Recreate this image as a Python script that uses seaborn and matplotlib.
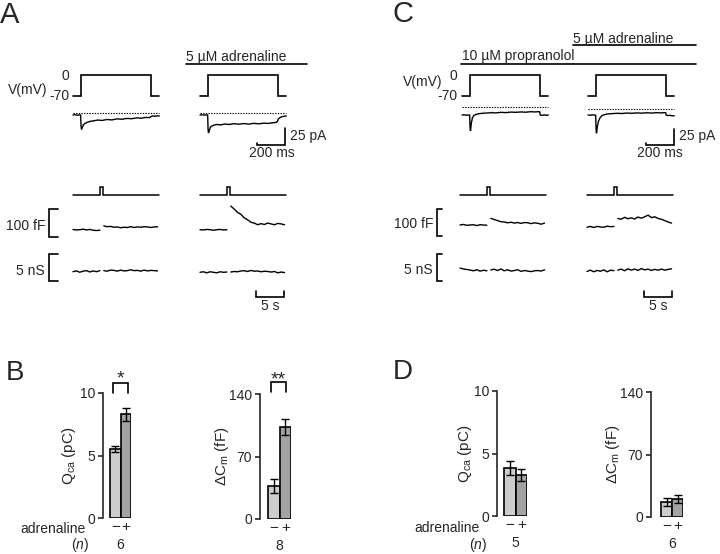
import numpy as np
import pandas as pd
import matplotlib
matplotlib.use('Agg')
import matplotlib.pyplot as plt
import seaborn as sns

# ------------------------
# Data
# ------------------------

# voltage protocol: 500 ms step from -70 to 0 mV (ms, mV)
step_t = [0, 55, 55, 550, 550, 610]
step_v = [-70, -70, 0, 0, -70, -70]

# whole-cell Ca current (ms, pA)
i_t = [0, 15, 30, 45, 54, 57, 60, 66, 74, 85, 100, 120, 145, 175, 205, 240,
       275, 310, 345, 380, 415, 450, 485, 515, 540, 549, 553, 565, 580, 595, 610]
i_ctrl = [-3.4, -3, -3.8, -3.2, -3.5, -20, -25, -22, -18, -16, -14.5, -13, -12.2, -11, -11.6, -10.2,
          -10.8, -9.2, -9.8, -8.6, -9, -7.8, -8.2, -7, -7.4, -6.2, -5.6, -4.8, -5.4, -4.6, -5]
i_adr = [-3, -2.6, -3.2, -2.8, -3, -24, -30, -26, -21, -19.5, -18, -17.2, -17.8, -16.5, -17.2, -16,
         -16.8, -15.8, -16.6, -15.5, -16.2, -15.2, -15.6, -14.6, -14, -12, -9, -7, -5.5, -4.8, -4.5]
i_prop = [-12, -11.6, -12.4, -11.8, -12.2, -30, -36, -24, -16, -12.5, -11, -10, -9.4, -9, -8.6, -8.8,
          -8, -8.4, -7.6, -8, -7.4, -7.8, -7, -7.4, -7, -7.2, -12, -12.6, -11.8, -12.4, -12]
i_prop_adr = [-9.7, -10.2, -9.4, -10, -9.8, -30, -37, -27, -19, -14, -10.5, -9, -8, -7.6, -7.2, -7.5,
              -6.8, -7.2, -6.6, -7, -6.4, -6.8, -6.2, -6.6, -6.2, -6.4, -10, -10.6, -10.2, -11, -10.8]

# stimulus marker for the capacitance records (s)
stim_t = [0, 4.9, 4.9, 5.4, 5.4, 15.3]
stim_v = [0, 0, 1, 1, 0, 0]

# membrane capacitance (fF) and conductance (nS), sampled before / after the pulse
t_pre = np.arange(0, 4.9, 0.6)
t_post = np.arange(5.5, 15.4, 0.6)

cm_ctrl_pre = [1, -1, 0, 2, -1, 1, -2, -3, -2]
cm_ctrl_post = [14, 11, 12, 9, 10, 7, 9, 8, 11, 8, 10, 9, 11, 10, 8, 10, 11]
cm_adr_pre = [0, -1, 1, 0, -2, 0, 1, -1, 0]
cm_adr_post = [86, 75, 63, 56, 43, 36, 27, 24, 18, 22, 19, 24, 21, 18, 23, 21, 18]
cm_prop_pre = [0, 2, -1, 0, 1, -2, 1, 0, -1]
cm_prop_post = [24, 20, 16, 12, 11, 8, 10, 7, 9, 6, 9, 8, 5, 8, 6, 3, 7]
cm_pa_pre = [-2, 1, -3, 1, -1, -2, 2, 0, 1]
cm_pa_post = [30, 27, 34, 29, 32, 28, 35, 31, 36, 42, 33, 36, 30, 27, 22, 17, 13]

gm_ctrl_pre = [0, 0.15, -0.1, 0.1, 0.2, -0.05, 0.15, 0, 0.2]
gm_ctrl_post = [0.2, 0.1, 0.3, 0.25, 0.1, 0.3, 0.15, 0.2, 0.35, 0.2, 0.25, 0.1, 0.3, 0.15, 0.25, 0.2, 0.15]
gm_adr_pre = [0, 0.1, -0.1, 0.1, 0, -0.1, 0.1, 0, 0.05]
gm_adr_post = [0.05, 0.15, 0.1, 0.25, 0.3, 0.15, 0.35, 0.2, 0.25, 0.1, 0.2, 0.15, 0.05, 0.15, -0.1, 0.05, -0.05]
gm_prop_pre = [0.35, 0.2, 0.1, 0, -0.15, 0.05, -0.2, -0.05, -0.15]
gm_prop_post = [0, 0.15, -0.1, 0.2, -0.15, 0.05, -0.2, -0.1, 0.05, -0.25, -0.1, -0.2, -0.3, -0.15, -0.1, -0.2, 0.05]
gm_pa_pre = [-0.15, 0.1, -0.2, 0.05, -0.1, 0.15, -0.2, 0.1, 0]
gm_pa_post = [0.1, 0.3, 0, 0.35, 0.1, 0.3, 0.05, 0.4, 0.15, 0.3, 0.05, 0.25, 0.1, 0.3, 0.1, 0.25, 0.35]

# summary bars (mean, SEM)
groups = ['\u2212', '+']
qca_B = [5.5, 8.3]
qca_B_err = [0.25, 0.5]
dcm_B = [37, 103]
dcm_B_err = [8, 9]
qca_D = [3.85, 3.3]
qca_D_err = [0.55, 0.5]
dcm_D = [17, 20]
dcm_D_err = [4.5, 4.5]
n_B = ['6', '8']
n_D = ['5', '6']

# ------------------------
# Figure setup
# ------------------------

sns.set_style('white')
plt.rcParams['font.family'] = ['Liberation Sans', 'DejaVu Sans']
plt.rcParams['mathtext.fontset'] = 'custom'
plt.rcParams['mathtext.rm'] = 'Liberation Sans'
plt.rcParams['mathtext.it'] = 'Liberation Sans:italic'

W, H = 720, 554
fig = plt.figure(figsize=(W / 100, H / 100), dpi=100)
fig.patch.set_facecolor('white')

# overlay in pixel units for labels and drug bars
ov = fig.add_axes([0, 0, 1, 1])
ov.set_xlim(0, W)
ov.set_ylim(H, 0)
ov.axis('off')


def px_rect(l, t, r, b):
    return [l / W, 1 - b / H, (r - l) / W, (b - t) / H]


def trace_ax(x0, y0, sx, sy, box):
    # x0, y0: pixel of the data origin; sx, sy: pixels per unit
    l, t, r, b = box
    ax = fig.add_axes(px_rect(l, t, r, b))
    ax.set_xlim((l - x0) / sx, (r - x0) / sx)
    ax.set_ylim((y0 - b) / sy, (y0 - t) / sy)
    ax.axis('off')
    return ax


def line(ax, x, y, lw=1.0, **kw):
    ax.plot(x, y, color='k', lw=lw, clip_on=False, solid_joinstyle='miter', **kw)


MS_PX, PA_PX, MV_PX = 0.1415, 0.668, 0.3
S_PX, FF_PX, NS_PX = 5.6, 0.275, 5.34

# column anchors (pixels): current-record left, zero line, Cm-record left, Cm/Gm baselines
columns = [
    dict(x_ep=73, zero_i=112.7, x_cm=73, zero_cm=229.7, zero_gm=271.7,
         i=i_ctrl, cm=(cm_ctrl_pre, cm_ctrl_post), gm=(gm_ctrl_pre, gm_ctrl_post)),
    dict(x_ep=200, zero_i=113.0, x_cm=200, zero_cm=229.7, zero_gm=272.3,
         i=i_adr, cm=(cm_adr_pre, cm_adr_post), gm=(gm_adr_pre, gm_adr_post)),
    dict(x_ep=462, zero_i=107.0, x_cm=460, zero_cm=225.0, zero_gm=270.0,
         i=i_prop, cm=(cm_prop_pre, cm_prop_post), gm=(gm_prop_pre, gm_prop_post)),
    dict(x_ep=588, zero_i=108.5, x_cm=587, zero_cm=226.7, zero_gm=270.7,
         i=i_prop_adr, cm=(cm_pa_pre, cm_pa_post), gm=(gm_pa_pre, gm_pa_post)),
]

axes_i, axes_cm, axes_gm = [], [], []
for c in columns:
    xe, xc = c['x_ep'], c['x_cm']
    ax_v = trace_ax(xe, 75, MS_PX, MV_PX, (xe - 5, 68, xe + 95, 100))
    line(ax_v, step_t, step_v, lw=1.2)

    ax_i = trace_ax(xe, c['zero_i'], MS_PX, PA_PX, (xe - 5, 100, xe + 100, 150))
    ax_i.plot([0, 610], [0, 0], color='k', lw=0.8, ls=(0, (1.2, 1.2)))
    line(ax_i, i_t, c['i'])
    axes_i.append(ax_i)

    ax_s = trace_ax(xc, 195, S_PX, 8, (xc - 5, 180, xc + 95, 200))
    line(ax_s, stim_t, stim_v, lw=1.1)

    ax_c = trace_ax(xc, c['zero_cm'], S_PX, FF_PX, (xc - 30, 200, xc + 95, 245))
    line(ax_c, t_pre, c['cm'][0])
    line(ax_c, t_post, c['cm'][1])
    axes_cm.append(ax_c)

    ax_g = trace_ax(xc, c['zero_gm'], S_PX, NS_PX, (xc - 30, 250, xc + 95, 305))
    line(ax_g, t_pre, c['gm'][0])
    line(ax_g, t_post, c['gm'][1])
    axes_gm.append(ax_g)

# scale bars in data units: 25 pA / 200 ms, 100 fF, 5 nS, 5 s
for ax, t0, i0 in [(axes_i[1], 400, -48), (axes_i[3], 410, -55)]:
    line(ax, [t0, t0, t0 + 200, t0 + 200], [i0 + 3, i0, i0, i0 + 25], lw=1.2)
for ax_c, ax_g, x, tick, c0, g0 in [(axes_cm[0], axes_gm[0], -4.3, 1.6, -25.5, -1.74),
                                     (axes_cm[2], axes_gm[2], -4.16, 0.9, -40, -2.0)]:
    line(ax_c, [x + tick, x, x, x + tick], [c0, c0, c0 + 100, c0 + 100], lw=1.2)
    line(ax_g, [x + tick, x, x, x + tick], [g0, g0, g0 + 5, g0 + 5], lw=1.2)
for ax, x, g in [(axes_gm[1], 10, -4.63), (axes_gm[3], 10.2, -4.98)]:
    line(ax, [x, x, x + 5, x + 5], [g + 1.1, g, g, g + 1.1], lw=1.2)

# drug application bars
ov.plot([186, 307], [64, 64], color='k', lw=1.2)
ov.plot([573, 696], [45, 45], color='k', lw=1.2)
ov.plot([461, 696], [64, 64], color='k', lw=1.2)

FS = 10
txt = [
    (0, 23, 'A', 'left', 21), (392, 22, 'C', 'left', 21),
    (6, 380, 'B', 'left', 20), (393, 379, 'D', 'left', 20),
    (186, 61.5, '5 \u00b5M adrenaline', 'left', FS),
    (573, 43, '5 \u00b5M adrenaline', 'left', FS),
    (462, 60, '10 \u00b5M propranolol', 'left', FS),
    (8, 94, 'V(mV)', 'left', FS), (65, 80, '0', 'center', FS), (70, 100, '-70', 'right', FS),
    (403, 86, 'V(mV)', 'left', FS), (453.5, 80, '0', 'center', FS), (457, 100, '-70', 'right', FS),
    (290, 140, '25 pA', 'left', FS), (272, 157, '200 ms', 'center', FS),
    (679, 140, '25 pA', 'left', FS), (660, 157, '200 ms', 'center', FS),
    (45, 230, '100 fF', 'right', FS), (45, 275, '5 nS', 'right', FS), (270, 310, '5 s', 'center', FS),
    (433, 228, '100 fF', 'right', FS), (433, 274, '5 nS', 'right', FS), (658, 310, '5 s', 'center', FS),
    (86, 533, 'adrenaline', 'right', FS), (480, 532, 'adrenaline', 'right', FS),
    (80, 549, '($n$)', 'center', FS), (478, 549, '($n$)', 'center', FS),
]
for x, y, s, ha, fs in txt:
    ov.text(x, y, s, ha=ha, va='baseline', fontsize=fs)

# ------------------------
# Bar panels
# ------------------------

bar_colors = ['#cdcdcd', '#a3a3a3']


def bar_panel(spine_x, bar_l, bar_r, y_top, y_bot, ymax, vals, errs, ylabel, label_x, ticks):
    bw = (bar_r - bar_l) / 2
    ax = fig.add_axes(px_rect(spine_x, y_top, bar_r, y_bot))
    df = pd.DataFrame({'adrenaline': groups, 'value': vals})
    sns.barplot(data=df, x='adrenaline', y='value', hue='adrenaline', palette=bar_colors,
                width=1, edgecolor='k', linewidth=1.2, legend=False, errorbar=None, ax=ax)
    ax.errorbar([0, 1], vals, yerr=errs, fmt='none', ecolor='k', elinewidth=1,
                capsize=3, capthick=1)
    ax.set_xlim(-0.5 - (bar_l - spine_x) / bw, 1.5)
    ax.set_ylim(0, ymax)
    ax.set_yticks(ticks)
    sns.despine(ax=ax, bottom=True)
    ax.spines['left'].set_linewidth(1.2)
    ax.tick_params(axis='y', left=True, length=3.6, width=1.2, pad=2, labelsize=FS)
    ax.tick_params(axis='x', bottom=False, length=0, pad=1.5, labelsize=11)
    ax.set_xlabel('')
    ax.set_ylabel(ylabel, fontsize=11)
    ax.yaxis.set_label_coords((label_x - spine_x) / (bar_r - spine_x), 0.5)
    ax.patch.set_visible(False)
    return ax


qlabel = 'Q$_{\\rm ca}$ (pC)'
clabel = '$\\Delta$C$_{\\rm m}$ (fF)'

axB1 = bar_panel(103, 110, 131, 393, 518, 10, qca_B, qca_B_err, qlabel, 78, [0, 5, 10])
axB2 = bar_panel(260, 268, 291, 394, 519, 140, dcm_B, dcm_B_err, clabel, 231, [0, 70, 140])
axD1 = bar_panel(497, 504, 527, 391, 516, 10, qca_D, qca_D_err, qlabel, 474, [0, 5, 10])
axD2 = bar_panel(651, 661, 683, 392, 517, 140, dcm_D, dcm_D_err, clabel, 622, [0, 70, 140])

# significance brackets
line(axB1, [-0.2, -0.2, 1.2, 1.2], [10, 10.8, 10.8, 10], lw=1.2)
axB1.text(0.45, 10.75, '*', ha='center', va='baseline', fontsize=14, clip_on=False)
line(axB2, [-0.25, -0.25, 1.1, 1.1], [142, 153.4, 153.4, 142], lw=1.2)
axB2.text(0.42, 151, '**', ha='center', va='baseline', fontsize=14, clip_on=False)

# n per group
for ax, n in [(axB1, n_B[0]), (axB2, n_B[1]), (axD1, n_D[0]), (axD2, n_D[1])]:
    ax.text(0.5, -31 / 125, n, transform=ax.get_xaxis_transform(), ha='center',
            va='baseline', fontsize=FS, clip_on=False)

fig.savefig('out.png', dpi=100)
